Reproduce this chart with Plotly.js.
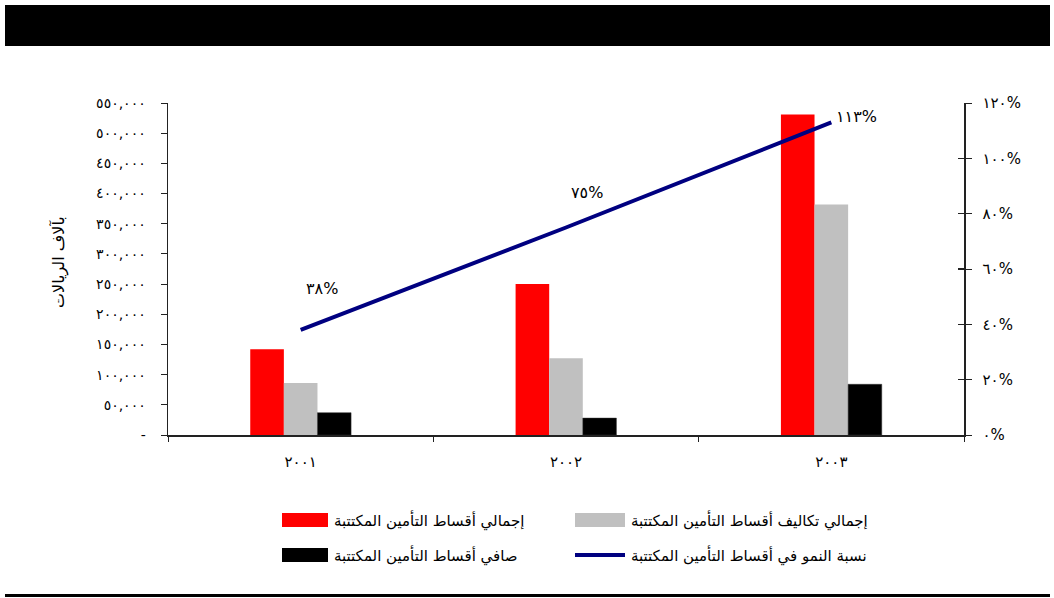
<!DOCTYPE html>
<html>
<head>
<meta charset="utf-8">
<script src="https://cdn.plot.ly/plotly-3.0.1.min.js"></script>
<style>
  html, body { margin: 0; padding: 0; background: #fff; }
  #chart { width: 1054px; height: 598px; }
</style>
</head>
<body>
<div id="chart"></div>
<script>
// ---- data ----
const years = ["٢٠٠١", "٢٠٠٢", "٢٠٠٣"];
const grossWritten = [142000, 250000, 531000];      // إجمالي أقساط التأمين المكتتبة
const grossCosts = [86000, 127000, 382000];          // إجمالي تكاليف أقساط التأمين المكتتبة
const netWritten = [37000, 28000, 84000];            // صافي أقساط التأمين المكتتبة
const growthRate = [0.38, 0.75, 1.13];               // نسبة النمو في أقساط التأمين المكتتبة
const growthLabels = ["٣٨%", "٧٥%", "١١٣%"];

const seriesNames = [
  "إجمالي أقساط التأمين المكتتبة",
  "إجمالي تكاليف أقساط التأمين المكتتبة",
  "صافي أقساط التأمين المكتتبة",
  "نسبة النمو في أقساط التأمين المكتتبة"
];

const leftTickVals = [0, 50000, 100000, 150000, 200000, 250000, 300000, 350000, 400000, 450000, 500000, 550000];
const leftTickText = ["-", "٥٠,٠٠٠", "١٠٠,٠٠٠", "١٥٠,٠٠٠", "٢٠٠,٠٠٠", "٢٥٠,٠٠٠", "٣٠٠,٠٠٠", "٣٥٠,٠٠٠", "٤٠٠,٠٠٠", "٤٥٠,٠٠٠", "٥٠٠,٠٠٠", "٥٥٠,٠٠٠"];
const rightTickVals = [0, 0.2, 0.4, 0.6, 0.8, 1.0, 1.2];
const rightTickText = ["٠%", "٢٠%", "٤٠%", "٦٠%", "٨٠%", "١٠٠%", "١٢٠%"];
const yTitle = "بآلاف الريالات";

// ---- geometry helpers (pixel -> paper) ----
const W = 1054, H = 598;
const L = 168, R = 964, T = 103, B = 435;
const px = x => (x - L) / (R - L);
const py = y => (B - y) / (B - T);

const FONT = "DejaVu Sans, Noto Sans, sans-serif";
const colors = ["#FF0000", "#C0C0C0", "#000000", "#000080"];

const traces = [
  { type: "bar", x: years, y: grossWritten, name: seriesNames[0], marker: { color: colors[0] }, hoverinfo: "skip" },
  { type: "bar", x: years, y: grossCosts, name: seriesNames[1], marker: { color: colors[1] }, hoverinfo: "skip" },
  { type: "bar", x: years, y: netWritten, name: seriesNames[2], marker: { color: colors[2], line: { color: "#333", width: 0.5 } }, hoverinfo: "skip" },
  { type: "scatter", mode: "lines", x: years, y: growthRate, name: seriesNames[3], yaxis: "y2",
    line: { color: colors[3], width: 4 }, hoverinfo: "skip" }
];

const annotations = [];
const shifts = [[21, 41], [21, 35], [25, 6]];
growthRate.forEach((v, i) => {
  annotations.push({
    x: years[i], y: v, xref: "x", yref: "y2", text: growthLabels[i], showarrow: false,
    xshift: shifts[i][0], yshift: shifts[i][1],
    font: { family: FONT, size: 16, color: "#000" }
  });
});
annotations.push({
  x: px(47), y: py(262), xref: "paper", yref: "paper", text: yTitle, textangle: -90,
  showarrow: false, font: { family: FONT, size: 16, color: "#000" }
});

// manual legend
const legendItems = [
  { sx0: 282, sx1: 328, cy: 520, name: seriesNames[0], color: colors[0], kind: "rect" },
  { sx0: 575, sx1: 625, cy: 520, name: seriesNames[1], color: colors[1], kind: "rect" },
  { sx0: 282, sx1: 328, cy: 555, name: seriesNames[2], color: colors[2], kind: "rect" },
  { sx0: 575, sx1: 625, cy: 555, name: seriesNames[3], color: colors[3], kind: "line" }
];
const shapes = [
  // top black banner
  { type: "rect", xref: "paper", yref: "paper", x0: px(5), x1: px(1050), y0: py(46), y1: py(5),
    fillcolor: "#000", line: { width: 0 }, layer: "below" },
  // bottom rule
  { type: "rect", xref: "paper", yref: "paper", x0: px(5), x1: px(1050), y0: py(597), y1: py(594),
    fillcolor: "#000", line: { width: 0 }, layer: "below" }
];
legendItems.forEach(it => {
  if (it.kind === "rect") {
    shapes.push({ type: "rect", xref: "paper", yref: "paper", x0: px(it.sx0), x1: px(it.sx1),
      y0: py(it.cy + 7), y1: py(it.cy - 7), fillcolor: it.color, line: { width: 0 } });
  } else {
    shapes.push({ type: "line", xref: "paper", yref: "paper", x0: px(it.sx0), x1: px(it.sx1),
      y0: py(it.cy), y1: py(it.cy), line: { color: it.color, width: 4 } });
  }
  annotations.push({ x: px(it.sx1 + 4), y: py(it.cy), xref: "paper", yref: "paper", xanchor: "left",
    yanchor: "middle", text: it.name, showarrow: false, font: { family: FONT, size: 15, color: "#000" } });
});

const layout = {
  width: W, height: H,
  margin: { l: L, r: W - R, t: T, b: H - B, pad: 0 },
  paper_bgcolor: "#fff", plot_bgcolor: "#fff",
  showlegend: false,
  barmode: "group", bargap: 0.62, bargroupgap: 0,
  font: { family: FONT, size: 12, color: "#000" },
  xaxis: {
    type: "category", showline: true, linecolor: "#222", linewidth: 1.5,
    ticks: "outside", tickson: "boundaries", ticklen: 5, tickcolor: "#222",
    showgrid: false, zeroline: false, ticklabelstandoff: 12,
    tickfont: { family: FONT, size: 15 }, fixedrange: true
  },
  yaxis: {
    range: [0, 550000], tickvals: leftTickVals, ticktext: leftTickText,
    showline: true, linecolor: "#222", linewidth: 1.5, ticks: "outside", ticklen: 6, tickcolor: "#222",
    showgrid: false, zeroline: false, tickfont: { family: FONT, size: 14 }, ticklabelstandoff: 12
  },
  yaxis2: {
    overlaying: "y", side: "right", range: [0, 1.2], tickvals: rightTickVals, ticktext: rightTickText,
    showline: true, linecolor: "#222", linewidth: 1.5, ticks: "outside", ticklen: 6, tickcolor: "#222",
    showgrid: false, zeroline: false, tickfont: { family: FONT, size: 15 }, ticklabelstandoff: 8
  },
  yaxis3: {
    overlaying: "y", side: "right", anchor: "x", range: [0, 1.2], tickvals: rightTickVals, showticklabels: false,
    showline: false, ticks: "inside", ticklen: 6, tickcolor: "#222", tickwidth: 1.5, showgrid: false, zeroline: false
  },
  shapes: shapes,
  annotations: annotations
};

// invisible helper trace so yaxis3 (inner half of the cross ticks) is drawn
traces.push({ type: "scatter", x: [years[0]], y: [0], yaxis: "y3", mode: "markers",
  marker: { opacity: 0, size: 1 }, showlegend: false, hoverinfo: "skip" });

Plotly.newPlot("chart", traces, layout, { staticPlot: true, displayModeBar: false });
</script>
</body>
</html>
